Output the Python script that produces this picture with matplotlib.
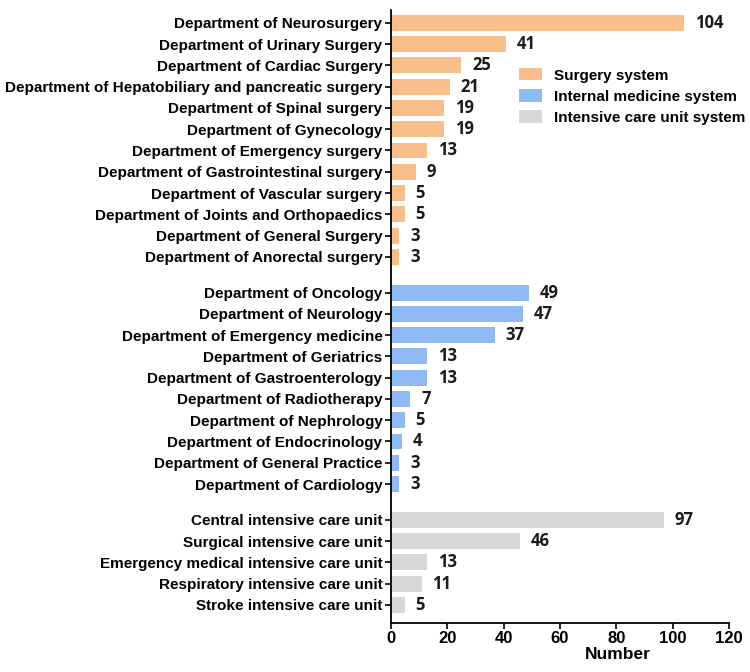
import numpy as np
import matplotlib.pyplot as plt
from matplotlib.patches import Patch

# data
surgery_depts = ['Department of Neurosurgery', 'Department of Urinary Surgery',
                 'Department of Cardiac Surgery',
                 'Department of Hepatobiliary and pancreatic surgery',
                 'Department of Spinal surgery', 'Department of Gynecology',
                 'Department of Emergency surgery',
                 'Department of Gastrointestinal surgery',
                 'Department of Vascular surgery',
                 'Department of Joints and Orthopaedics',
                 'Department of General Surgery', 'Department of Anorectal surgery']
surgery_vals = [104, 41, 25, 21, 19, 19, 13, 9, 5, 5, 3, 3]

medicine_depts = ['Department of Oncology', 'Department of Neurology',
                  'Department of Emergency medicine', 'Department of Geriatrics',
                  'Department of Gastroenterology', 'Department of Radiotherapy',
                  'Department of Nephrology', 'Department of Endocrinology',
                  'Department of General Practice', 'Department of Cardiology']
medicine_vals = [49, 47, 37, 13, 13, 7, 5, 4, 3, 3]

icu_depts = ['Central intensive care unit', 'Surgical intensive care unit',
             'Emergency medical intensive care unit',
             'Respiratory intensive care unit', 'Stroke intensive care unit']
icu_vals = [97, 46, 13, 11, 5]

groups = [
    ('Surgery system', surgery_depts, surgery_vals, '#F9BF8A'),
    ('Internal medicine system', medicine_depts, medicine_vals, '#8DB9F5'),
    ('Intensive care unit system', icu_depts, icu_vals, '#D8D8D8'),
]

fig = plt.figure(figsize=(7.5, 6.72), dpi=100)
ax = fig.add_axes([0.521, 0.073, 0.451, 0.912])

label_font = ['Liberation Sans', 'DejaVu Sans']
value_font = ['Open Sans', 'DejaVu Sans']

pos = 0.0
ticks, labels, handles = [], [], []
for name, depts, vals, col in groups:
    y = pos + np.arange(len(depts))
    ax.barh(y, vals, height=0.75, color=col)
    for yy, v in zip(y, vals):
        ax.text(v + 3.8, yy, str(v), va='center', ha='left', fontsize=12,
                fontweight='bold', family=value_font, color='#1a1a1a')
    ticks.extend(y)
    labels.extend(depts)
    handles.append(Patch(facecolor=col, label=name))
    pos = y[-1] + 1.68

ax.set_yticks(ticks)
ax.set_yticklabels(labels, fontsize=11, fontweight='bold', family=label_font)
ax.set_ylim(ticks[-1] + 0.85, -0.6)
ax.set_xlim(0, 120)
ax.set_xticks(range(0, 121, 20))
for t in ax.get_xticklabels():
    t.set_fontsize(12)
    t.set_fontweight('bold')
    t.set_family(label_font)
ax.set_xlabel('Number', fontsize=12.5, fontweight='bold', family=label_font)
ax.xaxis.set_label_coords(0.67, -0.04)

ax.spines['top'].set_visible(False)
ax.spines['right'].set_visible(False)
ax.spines['left'].set_linewidth(1.3)
ax.spines['bottom'].set_linewidth(1.3)
ax.tick_params(axis='both', width=1.2, length=4, pad=2)

leg = ax.legend(handles=handles, loc='upper left', bbox_to_anchor=(0.36, 0.915),
                frameon=False, handlelength=1.5, handleheight=0.85,
                handletextpad=0.8, borderaxespad=0,
                prop={'family': label_font, 'weight': 'bold', 'size': 11},
                labelspacing=0.44)

fig.savefig('out.png', dpi=100)
